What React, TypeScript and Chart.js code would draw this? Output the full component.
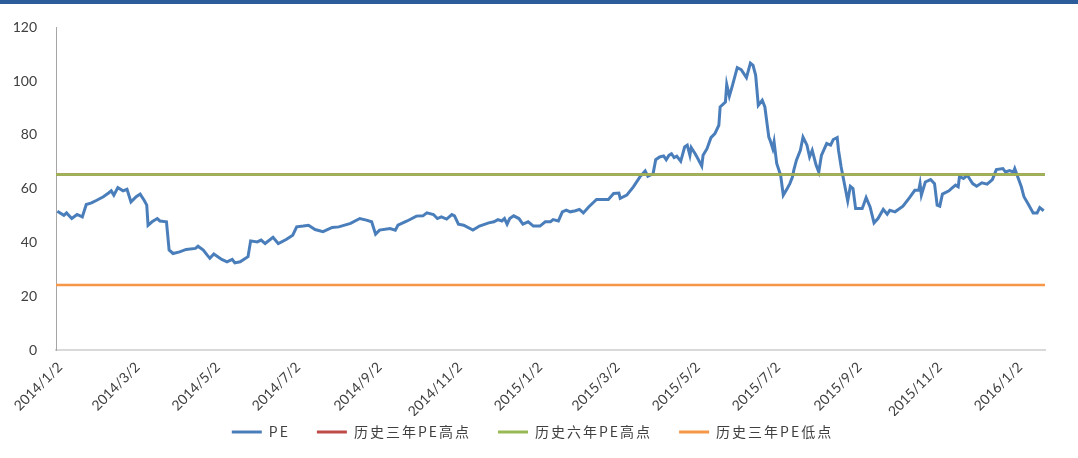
import React, { useEffect, useRef } from "react";
import { Chart, registerables } from "chart.js";

Chart.register(...registerables);

// x values are days since 2014/1/2
const tickLabels = [
  "2014/1/2", "2014/3/2", "2014/5/2", "2014/7/2", "2014/9/2", "2014/11/2",
  "2015/1/2", "2015/3/2", "2015/5/2", "2015/7/2", "2015/9/2", "2015/11/2", "2016/1/2",
];

const peDays = [
  1, 6, 8, 12, 16, 20, 23, 27, 31, 36, 40, 42, 44, 47, 51, 54, 57, 61, 64, 67,
  69, 70, 73, 77, 79, 84, 86, 89, 94, 99, 106, 108, 112, 115, 117, 120, 126, 130, 134, 136,
  140, 146, 148, 153, 156, 159, 165, 169, 175, 180, 183, 188, 192, 197, 203, 210, 215,
  224, 231, 236, 240, 243, 246, 254, 258, 260, 267, 274, 279, 282, 287, 290, 293, 297, 301, 303, 306,
  310, 317, 322, 329, 333, 336, 339, 341, 343, 345, 348, 352, 355, 359, 363, 368, 372, 376, 378, 382,
  385, 388, 391, 395, 398, 401, 405, 411, 420,
  424, 428, 429, 434, 439, 444, 448, 450, 454, 456, 459, 462, 464, 466, 468, 470, 472, 475, 478, 480,
  482, 483, 486, 488, 491, 492, 495, 498, 501, 504, 505, 509, 510, 512, 514, 518, 521, 525, 528, 530,
  532, 534, 537, 539, 542, 543, 545, 546, 548, 551, 553, 556, 558, 560, 561, 563, 566, 568, 571, 573,
  575, 578, 580, 582, 586, 589, 591, 594, 595,
  597, 602, 604, 606, 608, 613, 614, 616, 619, 622, 625, 629, 632, 634, 638, 644, 649, 653, 656, 657,
  658, 661, 665, 668, 670, 672, 674, 679, 681, 684, 686, 687, 690, 693, 695, 697, 700, 704, 708, 712,
  715, 720, 722, 725, 728, 729, 732, 734, 736, 739, 743, 746, 748, 751,
];

const peValues = [
  51.6, 50.1, 51, 48.9, 50.4, 49.5, 54.1, 54.7, 55.7, 57, 58.4, 59.2, 57.6, 60.4, 59.2, 59.8, 55.1, 57, 58, 55.7,
  53.9, 46.4, 47.7, 48.9, 48, 47.7, 37.2, 35.9, 36.5, 37.4, 37.8, 38.6, 37.2, 35.3, 34.1, 35.7, 33.7, 32.8, 33.7, 32.4,
  32.8, 34.7, 40.6, 40.2, 40.9, 39.6, 41.9, 39.6, 41.1, 42.7, 45.8, 46.1, 46.4, 44.8, 44, 45.6, 45.8,
  47.1, 48.9, 48.3, 47.7, 43.1, 44.6, 45.2, 44.6, 46.4, 48, 49.8, 49.9, 51, 50.4, 48.9, 49.5, 48.7, 50.4, 49.9, 46.8,
  46.4, 44.6, 46.1, 47.3, 47.7, 48.5, 48, 48.9, 46.8, 48.9, 49.9, 48.9, 46.8, 47.7, 46.1, 46.1, 47.7, 47.7, 48.5, 48,
  51.4, 52, 51.4, 51.8, 52.3, 51, 53.2, 56, 56,
  58.2, 58.4, 56.4, 57.6, 60.7, 64.4, 66.6, 64.6, 65.6, 70.8, 71.8, 72.2, 70.8, 72.4, 73, 71.6, 72.1, 70.2, 75.5, 76.2,
  72.4, 75.3, 73, 71.2, 68.4, 72.4, 74.9, 79, 80.5, 83.6, 90.4, 92.2, 98.8, 94.4, 97.8, 105, 104.3, 101.3, 106.7, 105.9,
  102.2, 91, 92.9, 90.4, 79.2, 78, 74.9, 77.4, 69.4, 65, 57.6, 60.1, 61.9, 64.4, 66.9, 70.6, 74.3, 79.2, 76.2, 71.8,
  74.3, 68.7, 66.2, 72.4, 76.8, 76.2, 78.3, 79, 74.3,
  68.1, 55.5, 60.9, 60.1, 52.6, 52.6, 53.9, 56.7, 53.2, 47.3, 48.9, 52.3, 50.5, 52, 51.4, 53.5, 56.7, 59.4, 59.4, 61.9,
  57.6, 62.5, 63.4, 61.9, 53.9, 53.5, 58, 59.2, 60.1, 61.3, 60.7, 64.6, 63.8, 65, 63.4, 61.9, 60.9, 62.2, 61.7, 63.4,
  67.1, 67.5, 66.2, 66.7, 66.2, 67.5, 63.4, 60.7, 57, 54.5, 51, 51, 53, 51.8,
];

const seriesNames = ["PE", "历史三年PE高点", "历史六年PE高点", "历史三年PE低点"];
const threeYearHigh = 65.3;
const sixYearHigh = 65.3;
const threeYearLow = 24.2;
const xMaxDay = 752;

function dayOffset(label: string): number {
  const [y, m, d] = label.split("/").map(Number);
  return Math.round((Date.UTC(y, m - 1, d) - Date.UTC(2014, 0, 2)) / 86400000);
}

// legend: wide letter spacing like the original, compact box, nudged into place
const legendTweak = {
  id: "legendTweak",
  afterInit(chart: any) {
    const lg = chart.legend;
    if (!lg) return;
    const origFit = lg.fit.bind(lg);
    const origDraw = lg.draw.bind(lg);
    lg.fit = (...args: any[]) => {
      const ctx = chart.ctx;
      ctx.letterSpacing = "2px";
      const r = origFit(...args);
      ctx.letterSpacing = "0px";
      lg.height = 34;
      return r;
    };
    lg.draw = (...args: any[]) => {
      const ctx = chart.ctx;
      const saved = { top: lg.top, left: lg.left, right: lg.right };
      lg.top -= 18;
      lg.left += 10;
      lg.right += 10;
      ctx.letterSpacing = "2px";
      const r = origDraw(...args);
      ctx.letterSpacing = "0px";
      Object.assign(lg, saved);
      return r;
    };
  },
};

export default function App() {
  const ref = useRef<HTMLCanvasElement>(null);

  useEffect(() => {
    if (!ref.current) return;
    const tickDays = tickLabels.map(dayOffset);
    const flat = (v: number) => [{ x: 0, y: v }, { x: xMaxDay, y: v }];
    const textColor = "#404040";
    const chart = new Chart(ref.current, {
      type: "line",
      plugins: [legendTweak],
      data: {
        datasets: [
          {
            label: seriesNames[0],
            data: peDays.map((d, i) => ({ x: d, y: peValues[i] })),
            borderColor: "#4A7EBB",
            backgroundColor: "#4A7EBB",
            borderWidth: 3,
            pointRadius: 0,
            tension: 0,
            order: 4,
          },
          {
            label: seriesNames[1],
            data: flat(threeYearHigh),
            borderColor: "#BE4B48",
            backgroundColor: "#BE4B48",
            borderWidth: 2.5,
            pointRadius: 0,
            order: 3,
          },
          {
            label: seriesNames[2],
            data: flat(sixYearHigh),
            borderColor: "#98B954",
            backgroundColor: "#98B954",
            borderWidth: 2.5,
            pointRadius: 0,
            order: 2,
          },
          {
            label: seriesNames[3],
            data: flat(threeYearLow),
            borderColor: "#F79646",
            backgroundColor: "#F79646",
            borderWidth: 2.5,
            pointRadius: 0,
            order: 1,
          },
        ],
      },
      options: {
        animation: false,
        responsive: false,
        layout: { padding: { left: 0, right: 33, top: 27, bottom: 8 } },
        plugins: {
          tooltip: { enabled: false },
          legend: {
            position: "bottom",
            labels: {
              boxWidth: 30,
              boxHeight: 3,
              padding: 27,
              color: "#404040",
              font: { family: "'Noto Sans CJK SC', 'Noto Sans', sans-serif", size: 14 },
              generateLabels: (c: any) =>
                c.data.datasets.map((ds: any, i: number) => ({
                  text: ds.label,
                  fillStyle: ds.borderColor,
                  strokeStyle: ds.borderColor,
                  lineWidth: 0,
                  hidden: false,
                  datasetIndex: i,
                  fontColor: "#404040",
                })),
            },
          },
        },
        scales: {
          x: {
            type: "linear",
            min: 0,
            max: xMaxDay,
            grid: { display: false, drawTicks: false },
            border: { display: true, color: "#D9D9D9", width: 2 },
            afterBuildTicks: (scale: any) => {
              scale.ticks = tickDays.map((v) => ({ value: v }));
            },
            afterFit: (scale: any) => {
              scale.height = 66;
            },
            ticks: {
              autoSkip: false,
              maxRotation: 45,
              minRotation: 45,
              padding: 9,
              labelOffset: 4,
              color: textColor,
              font: { family: "Lato, 'Open Sans', sans-serif", size: 14 },
              callback: (value: any) => {
                const idx = tickDays.indexOf(Number(value));
                return idx >= 0 ? tickLabels[idx] : "";
              },
            },
          },
          y: {
            min: 0,
            max: 120,
            grid: { display: false, drawTicks: false },
            border: { display: true, color: "#A6A6A6", width: 1 },
            afterFit: (scale: any) => {
              scale.width = 56;
            },
            ticks: {
              stepSize: 20,
              padding: 19,
              color: textColor,
              font: { family: "Lato, 'Open Sans', sans-serif", size: 14 },
            },
          },
        },
      },
    });
    return () => chart.destroy();
  }, []);

  return (
    <div style={{ position: "fixed", left: 0, top: 0, width: 1078, height: 458, background: "#fff" }}>
      <div style={{ position: "absolute", left: 0, top: 0, width: 1078, height: 4, background: "#2C5D9A" }} />
      <canvas ref={ref} width={1078} height={458} style={{ display: "block" }} />
    </div>
  );
}
